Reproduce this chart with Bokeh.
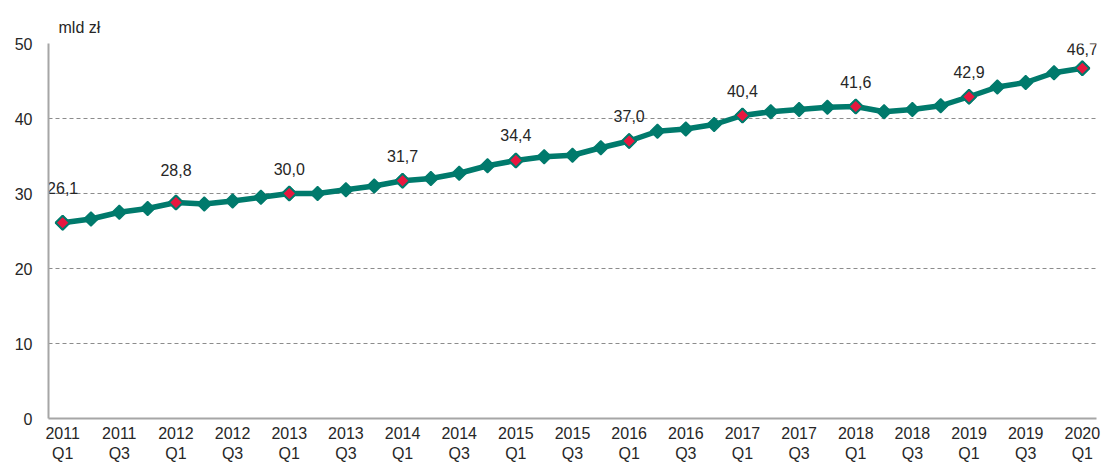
from bokeh.plotting import figure
from bokeh.models import ColumnDataSource, Range1d, FixedTicker
from bokeh.core.properties import value
from bokeh.embed import file_html
from bokeh.resources import INLINE
import math

quarters = [
    "2011 Q1", "2011 Q2", "2011 Q3", "2011 Q4",
    "2012 Q1", "2012 Q2", "2012 Q3", "2012 Q4",
    "2013 Q1", "2013 Q2", "2013 Q3", "2013 Q4",
    "2014 Q1", "2014 Q2", "2014 Q3", "2014 Q4",
    "2015 Q1", "2015 Q2", "2015 Q3", "2015 Q4",
    "2016 Q1", "2016 Q2", "2016 Q3", "2016 Q4",
    "2017 Q1", "2017 Q2", "2017 Q3", "2017 Q4",
    "2018 Q1", "2018 Q2", "2018 Q3", "2018 Q4",
    "2019 Q1", "2019 Q2", "2019 Q3", "2019 Q4",
    "2020 Q1",
]
values = [
    26.1, 26.6, 27.5, 28.0,
    28.8, 28.6, 29.0, 29.5,
    30.0, 30.0, 30.5, 31.0,
    31.7, 32.0, 32.7, 33.7,
    34.4, 34.9, 35.1, 36.1,
    37.0, 38.3, 38.6, 39.2,
    40.4, 40.9, 41.2, 41.5,
    41.6, 40.9, 41.2, 41.7,
    42.9, 44.2, 44.8, 46.1,
    46.7,
]
y_ticks = [0, 10, 20, 30, 40, 50]
unit_label = "mld zł"

FONT = "Liberation Sans"
TEXT_COLOR = "#262626"
TEAL = "#007A6C"
RED = "#E8173F"

xs = list(range(len(quarters)))
q1_idx = [i for i, q in enumerate(quarters) if q.endswith("Q1")]
q1_y = [values[i] for i in q1_idx]
q1_txt = [f"{v:.1f}".replace(".", ",") for v in q1_y]
label_dy = [-35, -33, -25, -25, -26, -25, -25, -25, -25, -19]

shown_ticks = [i for i, q in enumerate(quarters) if q.endswith(("Q1", "Q3"))]

p = figure(
    x_range=Range1d(-0.5, len(quarters) - 0.5), y_range=Range1d(0, 50),
    width=1102, height=464,
    output_backend="svg", toolbar_location=None,
    min_border_left=48, min_border_right=6,
    min_border_top=43, min_border_bottom=46,
    title=unit_label,
)
p.title.align = "left"
p.title.offset = 10
p.title.standoff = 16
p.title.text_font = FONT
p.title.text_font_size = "16px"
p.title.text_font_style = "normal"
p.title.text_color = TEXT_COLOR

p.outline_line_color = None
p.background_fill_color = "white"
p.border_fill_color = "white"

p.xgrid.grid_line_color = None
p.ygrid.grid_line_color = "#8c8c8c"
p.ygrid.grid_line_dash = "4 3"
p.ygrid.grid_line_width = 1

p.yaxis.ticker = FixedTicker(ticks=y_ticks)
p.yaxis.axis_line_color = "#a6a6a6"
p.yaxis.axis_line_width = 2
p.yaxis.major_tick_line_color = None
p.yaxis.minor_tick_line_color = None
p.yaxis.major_tick_out = 0
p.yaxis.major_tick_in = 0
p.yaxis.major_label_standoff = 16
p.yaxis.major_label_text_font = FONT
p.yaxis.major_label_text_font_size = "16px"
p.yaxis.major_label_text_color = TEXT_COLOR

p.xaxis.ticker = FixedTicker(ticks=shown_ticks)
p.xaxis.axis_line_color = "#a6a6a6"
p.xaxis.axis_line_width = 2
p.xaxis.major_tick_line_color = None
p.xaxis.minor_tick_line_color = None
p.xaxis.major_tick_out = 0
p.xaxis.major_tick_in = 0
p.xaxis.major_label_standoff = 6
p.xaxis.major_label_text_font = FONT
p.xaxis.major_label_text_font_size = "16px"
p.xaxis.major_label_text_color = TEXT_COLOR
p.xaxis.major_label_text_line_height = 1.2
p.xaxis.major_label_overrides = {i: quarters[i].replace(" ", "\n") for i in shown_ticks}

src = ColumnDataSource(dict(x=xs, y=values))
p.line("x", "y", source=src, line_color=TEAL, line_width=5.5)
p.scatter("x", "y", source=src, marker="square", angle=math.pi / 4, size=10,
          fill_color=TEAL, line_color=TEAL, line_width=1.5)

qsrc = ColumnDataSource(dict(x=q1_idx, y=q1_y, t=q1_txt, dy=label_dy))
p.scatter("x", "y", source=qsrc, marker="square", angle=math.pi / 4, size=10,
          fill_color=RED, line_color=TEAL, line_width=2)
p.text("x", "y", text="t", source=qsrc, y_offset="dy",
       text_align="center", text_baseline="middle",
       text_font=value(FONT), text_font_size="16px", text_color=TEXT_COLOR)

open("out.html", "w").write(file_html(p, INLINE))
